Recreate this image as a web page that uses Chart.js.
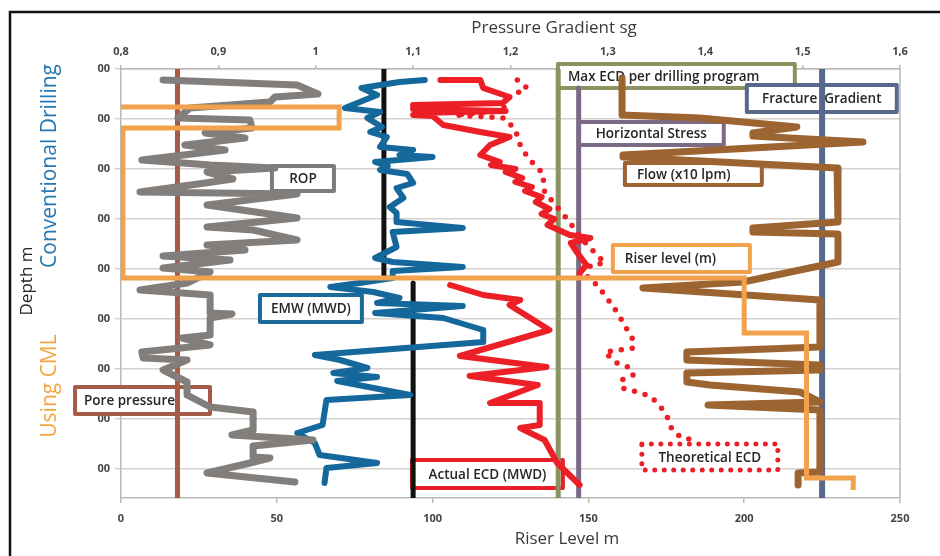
<!DOCTYPE html>
<html>
<head>
<meta charset="utf-8">
<script src="https://cdn.jsdelivr.net/npm/chart.js@4.4.1/dist/chart.umd.min.js"></script>
<style>
html,body{margin:0;padding:0;background:#fff;}
canvas{display:block;}
</style>
</head>
<body>
<canvas id="c" width="940" height="556"></canvas>
<script>
// axes
var depthTicks = [0, 100, 200, 300, 400, 500, 600, 700, 800];
var depthTickLabels = ['00', '00', '00', '00', '00', '00', '00', '00', '00'];
var pressureTicks = [0.8, 0.9, 1.0, 1.1, 1.2, 1.3, 1.4, 1.5, 1.6];
var pressureTickLabels = ['0,8', '0,9', '1', '1,1', '1,2', '1,3', '1,4', '1,5', '1,6'];
var riserTicks = [0, 50, 100, 150, 200, 250];
var riserTickLabels = ['0', '50', '100', '150', '200', '250'];

// series on the riser level axis: [value, depth]
var riserLevel = [[0,76],[70,76],[70,118],[0.6,118],[0.6,418],[200,418],[200,528],[220,528],[220,818],[235,818],[235,842]];
var rop = [[13.5,22],[56.5,32],[63.2,50],[49.4,56],[47.8,66],[22.1,78],[18.3,98],[41.4,102],[42,118],[27,128],[39.8,138],
  [20.5,152],[33.4,162],[6.7,182],[28.6,192],[49.4,198],[27.6,206],[35.9,220],[27,228],[6.1,246],[56.5,250],[27.6,272],
  [56.5,298],[27.6,316],[42.4,322],[56.5,342],[27.6,352],[39.8,362],[13.5,374],[35,382],[13.5,398],[28.6,406],[21.2,428],
  [6.1,442],[28.6,452],[28.6,488],[35.6,490],[28.6,498],[28.6,532],[19.6,538],[28.6,552],[6.7,566],[7.1,578],[21.2,582],
  [13.5,602],[21.2,626],[21.2,652],[28.6,676],[42.4,686],[42.4,722],[35.6,732],[61.6,742],[42.4,754],[42.4,776],[47.8,778],
  [41.4,788],[27.6,808],[55.8,826]];
var flow = [[160.8,18],[160.8,92],[185.8,98],[216.9,116],[202.8,128],[202.8,134],[238.1,146],[161.1,172],[161.1,176],
  [229.8,198],[230.1,306],[202.8,318],[202.8,326],[230.1,330],[230.1,386],[199.6,426],[167.5,438],[224.3,462],[224.3,556],
  [181.6,566],[181.6,582],[224.3,592],[224.3,602],[181.6,608],[181.6,626],[189,632],[217.9,646],[224.3,666],[188.4,672],
  [224.3,682],[224.3,806],[217.3,808],[217.3,832]];

// series on the pressure gradient axis: [sg, depth]
var emw = [[1.112,22],[1.086,26],[1.047,38],[1.063,52],[1.030,78],[1.066,86],[1.053,98],[1.068,116],[1.056,126],[1.073,136],
  [1.066,156],[1.100,162],[1.086,172],[1.120,176],[1.061,186],[1.074,194],[1.066,202],[1.094,210],[1.100,228],[1.083,238],
  [1.090,258],[1.076,276],[1.083,288],[1.083,306],[1.151,318],[1.079,326],[1.083,356],[1.061,378],[1.079,386],[1.151,396],
  [1.079,404],[1.079,418],[1.045,428],[1.015,436],[1.059,446],[1.086,458],[1.063,468],[1.151,474],[1.061,488],[1.131,498],
  [1.172,522],[1.172,546],[0.999,572],[1.025,582],[1.053,598],[1.018,608],[1.063,616],[1.022,624],[1.097,652],[1.011,662],
  [1.007,712],[0.981,728],[0.999,748],[1.004,772],[1.063,788],[1.011,798],[1.009,828]];
var ecdConventional = [[1.128,22],[1.169,22],[1.172,38],[1.199,56],[1.192,68],[1.100,72],[1.100,80],[1.195,84],[1.105,88],
  [1.100,92],[1.120,94],[1.131,112],[1.169,126],[1.199,136],[1.179,152],[1.169,172],[1.189,186],[1.180,192],[1.205,200],
  [1.195,206],[1.212,218],[1.205,226],[1.222,236],[1.215,244],[1.232,256],[1.226,266],[1.240,280],[1.232,290],[1.245,300],
  [1.238,312],[1.261,332],[1.282,338],[1.262,348],[1.268,366],[1.278,392],[1.271,408],[1.271,418]];
var ecdCml = [[1.138,432],[1.172,452],[1.210,462],[1.199,472],[1.240,522],[1.148,574],[1.237,596],[1.158,614],[1.228,632],
  [1.179,668],[1.230,668],[1.230,712],[1.210,718],[1.235,742],[1.248,788],[1.271,832]];
var ecdTheoretical = [[1.207,22],[1.217,38],[1.199,56],[1.192,82],[1.143,92],[1.194,98],[1.205,122],[1.210,152],[1.218,178],
  [1.233,208],[1.235,246],[1.259,302],[1.274,342],[1.292,378],[1.297,388],[1.282,392],[1.279,418],[1.289,432],[1.302,466],
  [1.310,488],[1.317,512],[1.326,542],[1.326,558],[1.297,566],[1.307,586],[1.323,598],[1.326,612],[1.314,622],[1.315,638],
  [1.330,646],[1.343,654],[1.353,672],[1.361,696],[1.366,722],[1.376,738],[1.389,742]];
var porePressure = [[0.858,0],[0.858,858]];
var mudWeightConventional = [[1.07,0],[1.07,412]];
var mudWeightCml = [[1.10,428],[1.10,858]];
var maxEcd = [[1.249,0],[1.249,858]];
var horizontalStress = [[1.270,38],[1.270,858]];
var fractureGradient = [[1.52,0],[1.52,858]];

// callout boxes, in sg / depth units
var callouts = [
  {text: 'Max ECD per drilling program', x1: 1.2487, x2: 1.492, y1: -10, y2: 38, color: '#8b9461', align: 'left', pad: 10},
  {text: 'Fracture  Gradient', x1: 1.4427, x2: 1.5967, y1: 32, y2: 86, color: '#56698c'},
  {text: 'Horizontal Stress', x1: 1.2702, x2: 1.419, y1: 106, y2: 152, color: '#7a6a86'},
  {text: 'Flow (x10 lpm)', x1: 1.3175, x2: 1.4581, y1: 188, y2: 232, color: '#9c6430', align: 'left', pad: 12},
  {text: 'ROP', x1: 0.955, x2: 1.0187, y1: 194, y2: 244, color: '#7f7b79'},
  {text: 'Riser level (m)', x1: 1.3051, x2: 1.4458, y1: 352, y2: 406, color: '#f2a24c', align: 'left', pad: 12},
  {text: 'EMW (MWD)', x1: 0.9427, x2: 1.0474, y1: 452, y2: 506, color: '#1a6a9a'},
  {text: 'Pore pressure', x1: 0.7528, x2: 0.8914, y1: 636, y2: 690, color: '#a65a48', align: 'left', pad: 9},
  {text: 'Actual ECD (MWD)', x1: 1.0988, x2: 1.2538, y1: 782, y2: 838, color: '#e8202a'},
  {text: 'Theoretical ECD', x1: 1.3349, x2: 1.4745, y1: 750, y2: 802, color: '#e8202a', dotted: true}
];

function pts(arr) {
  return arr.map(function (p) { return {x: p[0], y: p[1]}; });
}

function series(data, axis, color, width, extra) {
  var ds = {
    data: pts(data),
    xAxisID: axis,
    yAxisID: 'y',
    showLine: true,
    borderColor: color,
    backgroundColor: color,
    borderWidth: width,
    pointRadius: 0,
    borderJoinStyle: 'round',
    borderCapStyle: 'round',
    tension: 0
  };
  for (var k in extra) ds[k] = extra[k];
  return ds;
}

var tickFont = {family: '"Open Sans", sans-serif', size: 11, weight: 'bold'};
var axisGray = '#bdb7b3';

var decor = {
  id: 'decor',
  beforeDraw: function (chart) {
    var ctx = chart.ctx;
    ctx.save();
    ctx.fillStyle = '#fff';
    ctx.fillRect(0, 0, chart.width, chart.height);
    ctx.strokeStyle = '#111';
    ctx.lineWidth = 2.5;
    ctx.beginPath();
    ctx.moveTo(10, chart.height + 2);
    ctx.lineTo(10, 12);
    ctx.lineTo(chart.width + 2, 12);
    ctx.stroke();
    ctx.restore();
  },
  beforeDatasetsDraw: function (chart) {
    var ctx = chart.ctx, xs = chart.scales.x2, ys = chart.scales.y, a = chart.chartArea;
    ctx.save();
    // right border of the plot
    ctx.strokeStyle = axisGray;
    ctx.lineWidth = 1.5;
    ctx.beginPath();
    ctx.moveTo(a.right, a.top);
    ctx.lineTo(a.right, a.bottom);
    ctx.stroke();
    callouts.forEach(function (c) {
      var l = xs.getPixelForValue(c.x1), r = xs.getPixelForValue(c.x2);
      var t = ys.getPixelForValue(c.y1), b = ys.getPixelForValue(c.y2);
      ctx.fillStyle = '#fff';
      ctx.fillRect(l, t, r - l, b - t);
      ctx.strokeStyle = c.color;
      ctx.lineJoin = 'round';
      if (c.dotted) {
        ctx.lineWidth = 5;
        ctx.lineCap = 'round';
        ctx.setLineDash([0, 9.5]);
      } else {
        ctx.lineWidth = 4;
        ctx.lineCap = 'butt';
        ctx.setLineDash([]);
      }
      ctx.strokeRect(l, t, r - l, b - t);
      ctx.setLineDash([]);
      ctx.fillStyle = '#262626';
      ctx.font = '600 13.5px "Open Sans", sans-serif';
      ctx.textBaseline = 'middle';
      if (c.align === 'left') {
        ctx.textAlign = 'left';
        ctx.fillText(c.text, l + c.pad, (t + b) / 2 + 1);
      } else {
        ctx.textAlign = 'center';
        ctx.fillText(c.text, (l + r) / 2, (t + b) / 2 + 1);
      }
    });
    ctx.restore();
  },
  afterDraw: function (chart) {
    var ctx = chart.ctx;
    ctx.save();
    ctx.textAlign = 'center';
    ctx.textBaseline = 'middle';
    ctx.fillStyle = '#3a3a3a';
    ctx.font = '17px "Open Sans", sans-serif';
    ctx.fillText('Pressure Gradient sg', 554, 28);
    ctx.fillText('Riser Level m', 567, 539);
    function vtext(txt, x, y, font, color) {
      ctx.save();
      ctx.translate(x, y);
      ctx.rotate(-Math.PI / 2);
      ctx.font = font;
      ctx.fillStyle = color;
      ctx.fillText(txt, 0, 0);
      ctx.restore();
    }
    vtext('Depth m', 27, 281, '17px "Open Sans", sans-serif', '#222');
    vtext('Conventional Drilling', 50, 166, '21px "Open Sans", sans-serif', '#2878b0');
    vtext('Using CML', 50, 386, '21px "Open Sans", sans-serif', '#f2a541');
    ctx.restore();
  }
};

new Chart(document.getElementById('c'), {
  type: 'scatter',
  data: {
    datasets: [
      series(riserLevel, 'x', '#f2a24c', 5, {borderJoinStyle: 'miter', borderCapStyle: 'butt'}),
      series(rop, 'x', '#827e7b', 7),
      series(flow, 'x', '#9c6430', 7),
      series(fractureGradient, 'x2', '#56698c', 6, {borderCapStyle: 'butt'}),
      series(emw, 'x2', '#15689c', 6),
      series(ecdConventional, 'x2', '#ec1f26', 6),
      series(ecdCml, 'x2', '#ec1f26', 6),
      series(ecdTheoretical, 'x2', '#ec1f26', 5.5, {borderDash: [0, 11]}),
      series(mudWeightConventional, 'x2', '#111', 5, {borderCapStyle: 'butt'}),
      series(mudWeightCml, 'x2', '#111', 5, {borderCapStyle: 'butt'}),
      series(horizontalStress, 'x2', '#7a6a86', 5, {borderCapStyle: 'butt'}),
      series(maxEcd, 'x2', '#8b9461', 5, {borderCapStyle: 'butt'}),
      series(porePressure, 'x2', '#a65a48', 5, {borderCapStyle: 'butt'})
    ]
  },
  options: {
    responsive: false,
    animation: false,
    devicePixelRatio: 1,
    layout: {padding: {left: 0, right: 40, top: 0, bottom: 0}},
    plugins: {legend: {display: false}, tooltip: {enabled: false}},
    scales: {
      x: {
        type: 'linear', position: 'bottom', min: 0, max: 250,
        afterBuildTicks: function (s) { s.ticks = riserTicks.map(function (v) { return {value: v}; }); },
        afterFit: function (s) { s.height = 58; },
        ticks: {autoSkip: false, maxRotation: 0, font: tickFont, color: '#444', padding: 9,
          callback: function (v, i) { return riserTickLabels[i]; }},
        grid: {drawOnChartArea: false, tickLength: 5, color: axisGray, lineWidth: 1.5},
        border: {color: axisGray, width: 1.5}
      },
      x2: {
        type: 'linear', position: 'top', min: 0.8, max: 1.6,
        afterBuildTicks: function (s) { s.ticks = pressureTicks.map(function (v) { return {value: v}; }); },
        afterFit: function (s) { s.height = 69; },
        ticks: {autoSkip: false, maxRotation: 0, font: tickFont, color: '#444', padding: 7,
          callback: function (v, i) { return pressureTickLabels[i]; }},
        grid: {drawOnChartArea: false, tickLength: 4, color: axisGray, lineWidth: 1.5},
        border: {color: axisGray, width: 1.5}
      },
      y: {
        type: 'linear', position: 'left', reverse: true, min: 0, max: 858,
        afterBuildTicks: function (s) { s.ticks = depthTicks.map(function (v) { return {value: v}; }); },
        afterFit: function (s) { s.width = 121; },
        ticks: {autoSkip: false, font: tickFont, color: '#444', padding: 5,
          callback: function (v, i) { return depthTickLabels[i]; }},
        grid: {color: '#d6d1cd', lineWidth: 1.5, tickLength: 6},
        border: {color: axisGray, width: 1.5}
      }
    }
  },
  plugins: [decor]
});
</script>
</body>
</html>
